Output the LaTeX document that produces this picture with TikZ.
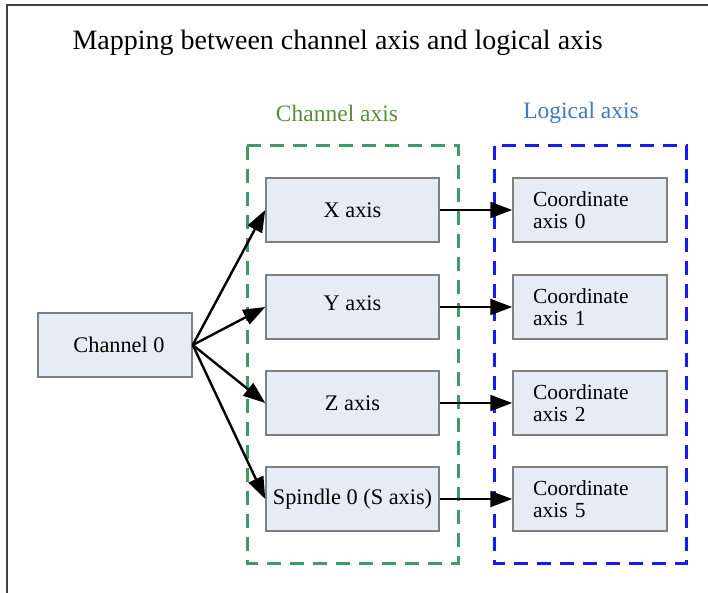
\documentclass[tikz,border=0pt]{standalone}
\usepackage{fontspec}
\setmainfont{Liberation Serif}
\usetikzlibrary{arrows.meta}
\definecolor{boxfill}{HTML}{E6ECF6}
\definecolor{boxline}{HTML}{7F7F7F}
\definecolor{grpgreen}{HTML}{3E9A66}
\definecolor{txtgreen}{HTML}{5B8C3A}
\definecolor{txtblue}{HTML}{3E7AC0}
\definecolor{grpblue}{HTML}{1A1AF0}
\tikzset{
  axbox/.style={draw=boxline, line width=1.5pt, fill=boxfill, minimum width=173pt, minimum height=64pt, inner sep=0pt, font=\fontsize{22.3}{22}\selectfont},
  coordbox/.style={axbox, minimum width=154pt, text width=114pt, align=left, font=\fontsize{21.5}{22.5}\selectfont},
  conn/.style={draw=black, line width=2.4pt, -{Triangle[length=22pt,width=16pt]}},
  grp/.style={line width=3pt, dash pattern=on 14pt off 9pt}
}
\begin{document}
\begin{tikzpicture}[x=1pt,y=-1pt]
\useasboundingbox (0,0) rectangle (708,593);
\fill[white] (0,0) rectangle (708,593);
\draw[line width=1.3pt, black!75] (7,593) -- (7,5) -- (708,5);
\node[anchor=west, font=\fontsize{28}{30}\selectfont] (title) at (69,43) {Mapping between channel axis and logical axis};
\node[font=\fontsize{23.5}{24}\selectfont, text=txtgreen] (chlab) at (337,113) {Channel axis};
\node[font=\fontsize{23.5}{24}\selectfont, text=txtblue] (loglab) at (581,113) {Logical axis};
\draw[grp, draw=grpgreen] (247,146) rectangle (458,563);
\draw[grp, draw=grpblue] (494,146) rectangle (686,563);
\node[axbox, minimum width=154pt] (ch) at (115,345) {\hspace{8pt}Channel 0};
\node[axbox] (x) at (352.5,210) {X axis};
\node[axbox] (y) at (352.5,307) {\raisebox{8pt}{Y axis}};
\node[axbox] (z) at (352.5,403) {Z axis};
\node[axbox] (s) at (352.5,499) {Spindle 0 (S axis)};
\node[coordbox] (c0) at (590,210) {Coordinate\\axis 0};
\node[coordbox] (c1) at (590,307) {Coordinate\\axis 1};
\node[coordbox] (c2) at (590,403) {Coordinate\\axis 2};
\node[coordbox] (c5) at (590,499) {Coordinate\\axis 5};
\foreach \t in {x,y,z,s} \draw[conn] (ch.east) -- (\t.west);
\draw[conn] (x.east) -- (c0.west);
\draw[conn] (y.east) -- (c1.west);
\draw[conn] (z.east) -- (c2.west);
\draw[conn] (s.east) -- (c5.west);
\end{tikzpicture}
\end{document}
